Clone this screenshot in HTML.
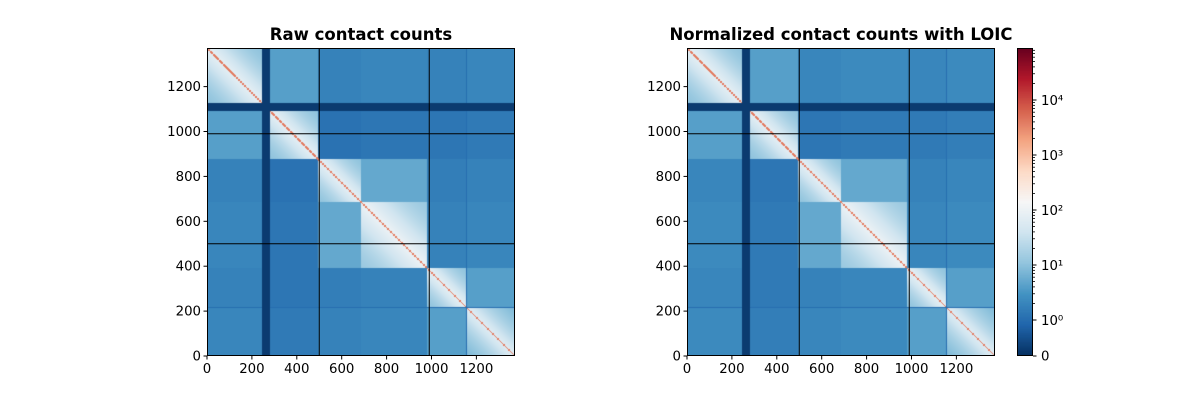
<!DOCTYPE html>
<html><head><meta charset="utf-8">
<style>
body{margin:0;background:#fff;}
#wrap{position:relative;width:1200px;height:400px;overflow:hidden;font-family:"DejaVu Sans","Liberation Sans",sans-serif;}
canvas{position:absolute;}
svg{position:absolute;left:0;top:0;}
</style></head><body>
<div id="wrap">
<canvas id="hm1" width="308" height="308" style="left:207px;top:48px"></canvas>
<canvas id="hm2" width="308" height="308" style="left:687px;top:48px"></canvas>
<canvas id="cb" width="16" height="308" style="left:1017px;top:48px"></canvas>
<svg id="ov" width="1200" height="400"></svg>
</div>
<script>
// ---- data ----
const N = 1372;
const domainNames = ["A","B","C","D","E","F"];
const domainStart = [0, 280, 494, 688, 981, 1155];
const domainEnd   = [245, 494, 688, 981, 1155, 1372];
const missingStart = [245];
const missingEnd = [280];
const darkLines = [1155];
// log10 contact levels between sub-domains (raw)
const rawLevels = [
 [1.0,0.6,0.25,0.3,0.25,0.3],
 [0.6,1.0,0.05,0.1,0.1,0.15],
 [0.25,0.05,1.0,0.7,0.2,0.25],
 [0.3,0.1,0.7,1.1,0.25,0.3],
 [0.25,0.1,0.2,0.25,1.0,0.6],
 [0.3,0.15,0.25,0.3,0.6,0.9]
];
// log10 contact levels (normalized)
const normLevels = [
 [1.0,0.6,0.3,0.35,0.3,0.35],
 [0.6,1.0,0.1,0.15,0.15,0.2],
 [0.3,0.1,1.0,0.7,0.25,0.3],
 [0.35,0.15,0.7,1.1,0.3,0.35],
 [0.3,0.15,0.25,0.3,1.0,0.6],
 [0.35,0.2,0.3,0.35,0.6,0.9]
];
const diagLevel = 3.6;
const axisTicks = [0,200,400,600,800,1000,1200];
const cbarMajor = [0,1,2,3,4];
const cbarLabels = ["10\u2070","10\u00b9","10\u00b2","10\u00b3","10\u2074"];
const boundaryLines = [500, 990];

// ---- colormap RdBu_r ----
const stops = ["#053061","#2166ac","#4393c3","#92c5de","#d1e5f0","#f7f7f7","#fddbc7","#f4a582","#d6604d","#b2182b","#67001f"].map(h=>[parseInt(h.slice(1,3),16),parseInt(h.slice(3,5),16),parseInt(h.slice(5,7),16)]);
function cmap(t){t=Math.max(0,Math.min(1,t));const f=t*10,i=Math.min(9,Math.floor(f)),r=f-i;const a=stops[i],b=stops[i+1];return [a[0]+(b[0]-a[0])*r,a[1]+(b[1]-a[1])*r,a[2]+(b[2]-a[2])*r];}
const CB_H = 308;
function posOfLog(L){return 36+55*L;}
function tOfLog(L){return posOfLog(L)/CB_H;}
function domainOf(u){for(let k=0;k<domainStart.length;k++){if(u>=domainStart[k]&&u<domainEnd[k])return k;}return -1;}
function inMissing(u){for(let k=0;k<missingStart.length;k++){if(u>=missingStart[k]&&u<missingEnd[k])return true;}return false;}

function drawHeat(id, levels){
  const c=document.getElementById(id),ctx=c.getContext('2d');
  const img=ctx.createImageData(308,308);const s=N/308;
  for(let py=0;py<308;py++){for(let px=0;px<308;px++){
    const i=(py+0.5)*s,j=(px+0.5)*s;let t;
    if(inMissing(i)||inMissing(j)){t=0.02;}
    else{
      const di=domainOf(i),dj=domainOf(j);
      let L=(di<0||dj<0)?0.3:levels[di][dj];
      if(di===dj&&di>=0){const size=domainEnd[di]-domainStart[di];L+=0.9*Math.pow(Math.max(0,1-Math.abs(i-j)/size),1.5);}
      if(Math.abs(i-j)<s*1.0)L=diagLevel;
      for(const d of darkLines){if(Math.abs(i-d)<s*0.6||Math.abs(j-d)<s*0.6)L=Math.min(L,0.0);}
      t=tOfLog(L);
    }
    const col=cmap(t),o=(py*308+px)*4;img.data[o]=col[0];img.data[o+1]=col[1];img.data[o+2]=col[2];img.data[o+3]=255;
  }}
  ctx.putImageData(img,0,0);
}
drawHeat('hm1',rawLevels);
drawHeat('hm2',normLevels);
(function(){const c=document.getElementById('cb'),ctx=c.getContext('2d');for(let y=0;y<308;y++){const col=cmap((307-y+0.5)/308);ctx.fillStyle=`rgb(${col[0]|0},${col[1]|0},${col[2]|0})`;ctx.fillRect(0,y,16,1);}})();

// ---- axes overlay ----
const svg=document.getElementById('ov');const NS='http://www.w3.org/2000/svg';
function el(tag,attrs,txt){const e=document.createElementNS(NS,tag);for(const k in attrs)e.setAttribute(k,attrs[k]);if(txt!==undefined)e.textContent=txt;svg.appendChild(e);return e;}
function panel(x0,title,tname){
  const y0=48,W=308,H=308;
  const sx=v=>x0+v*W/N, sy=v=>y0+H-v*H/N;
  for(const b of boundaryLines){
    const l1=el('line',{x1:sx(b),x2:sx(b),y1:y0,y2:y0+H,stroke:'#000','stroke-width':1});
    
    
    const l2=el('line',{x1:x0,x2:x0+W,y1:sy(b),y2:sy(b),stroke:'#000','stroke-width':1});
    
    
  }
  const fr=el('rect',{x:x0+0.5,y:y0+0.5,width:W-1,height:H-1,fill:'none',stroke:'#000','stroke-width':1});
  
  
  for(const v of axisTicks){
    el('line',{x1:sx(v),x2:sx(v),y1:y0+H,y2:y0+H+3.5,stroke:'#000'});
    const tx=el('text',{x:sx(v),y:y0+H+17,'text-anchor':'middle','font-size':'13.3px',fill:'#000'},String(v));
    
    
    el('line',{x1:x0-3.5,x2:x0,y1:sy(v),y2:sy(v),stroke:'#000'});
    const ty=el('text',{x:x0-6,y:sy(v)+4.5,'text-anchor':'end','font-size':'13.3px',fill:'#000'},String(v));
    
    
  }
  const t=el('text',{x:x0+W/2,y:40,'text-anchor':'middle','font-size':'16.5px','font-weight':'bold',fill:'#000'},title);
  
  
}
panel(207,'Raw contact counts','raw-panel-title');
panel(687,'Normalized contact counts with LOIC','normalized-panel-title');
// colorbar
const cbx=1017,cby=48;
const cf=el('rect',{x:cbx+0.5,y:cby+0.5,width:15,height:307,fill:'none',stroke:'#000'});


const zy=cby+CB_H;
el('line',{x1:cbx+16,x2:cbx+19.5,y1:zy,y2:zy,stroke:'#000'});
const z=el('text',{x:cbx+24,y:zy+4.5,'font-size':'13.3px',fill:'#000'},'0');


cbarMajor.forEach((L,k)=>{
  const y=zy-posOfLog(L);
  el('line',{x1:cbx+16,x2:cbx+19.5,y1:y,y2:y,stroke:'#000'});
  const tl=el('text',{x:cbx+24,y:y+5,'font-size':'13.3px',fill:'#000'},cbarLabels[k]);
  
  
});
for(let d=-1;d<=4;d++){for(let m=2;m<=9;m++){const L=d+Math.log10(m);if(L<0)continue;const y=zy-posOfLog(L);if(y<cby)continue;el('line',{x1:cbx+16,x2:cbx+18,y1:y,y2:y,stroke:'#000','stroke-width':0.8});}}
</script>
</body></html>
